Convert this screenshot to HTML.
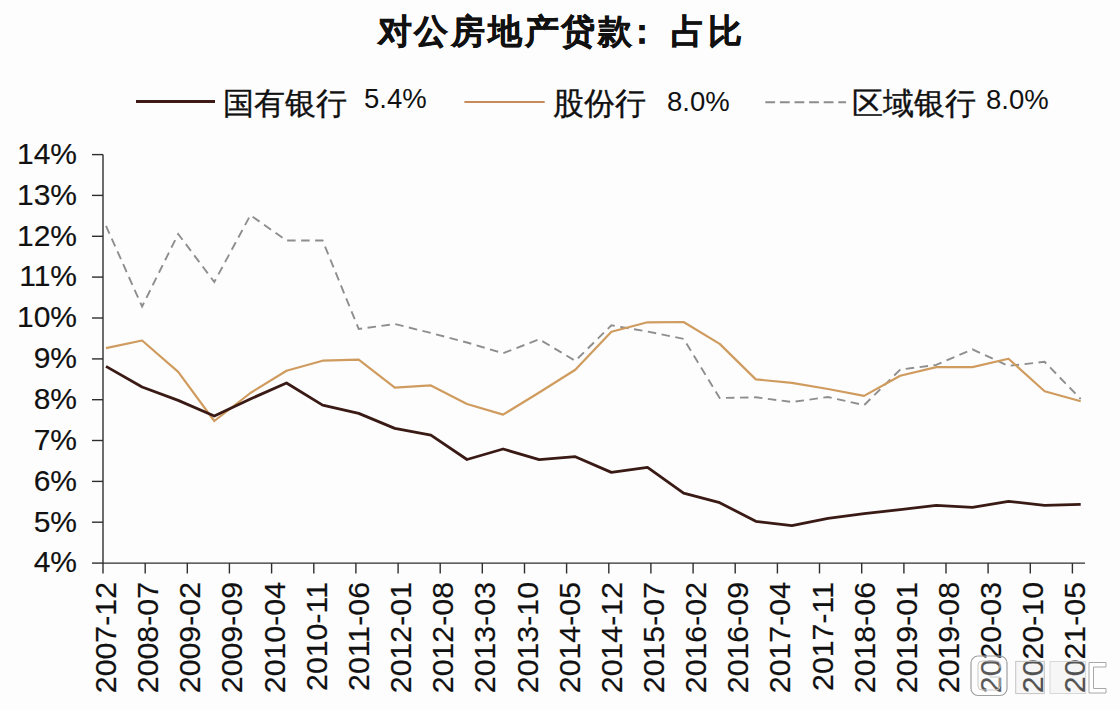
<!DOCTYPE html>
<html><head><meta charset="utf-8">
<style>
html,body{margin:0;padding:0;background:#fdfdfd;}
svg{display:block;}
text{font-family:"Liberation Sans",sans-serif;fill:#111;}
</style></head><body>
<svg width="1120" height="710" viewBox="0 0 1120 710">
<rect width="1120" height="710" fill="#fdfdfd"/>
<g style="font-size:33.5px;font-weight:bold" text-anchor="middle" stroke="#111" stroke-width="0.5"><text x="395" y="43">对</text><text x="431.4" y="43">公</text><text x="468.3" y="43">房</text><text x="504.9" y="43">地</text><text x="541.5" y="43">产</text><text x="577.8" y="43">贷</text><text x="614.7" y="43">款</text><text x="688" y="43">占</text><text x="725.4" y="43">比</text><text x="642.3" y="43">：</text></g>
<g style="font-size:30.5px">
<line x1="136" y1="101.5" x2="215" y2="101.5" stroke="#3d1a16" stroke-width="3"/>
<text x="222.5" y="113.5" stroke="#111" stroke-width="0.35">国有银行</text>
<text x="364" y="107.8" style="font-size:27.5px">5.4%</text>
<line x1="464.4" y1="102" x2="544.7" y2="102" stroke="#c98a5a" stroke-width="2.2"/>
<text x="553" y="113.5" stroke="#111" stroke-width="0.35">股份行</text>
<text x="667" y="111.3" style="font-size:27.5px">8.0%</text>
<line x1="765.3" y1="102.2" x2="846" y2="102.2" stroke="#8c8c8c" stroke-width="2" stroke-dasharray="9.8,4.8"/>
<text x="852" y="113.5" stroke="#111" stroke-width="0.35">区域银行</text>
<text x="986" y="108.8" style="font-size:27.5px">8.0%</text>
</g>
<g stroke="#2e2e2e" stroke-width="1.4">
<line x1="103.0" y1="154.6" x2="103.0" y2="563.1"/>
<line x1="103.0" y1="563.1" x2="1085" y2="563.1"/>
<line x1="92" y1="154.6" x2="103.0" y2="154.6"/><line x1="92" y1="195.4" x2="103.0" y2="195.4"/><line x1="92" y1="236.3" x2="103.0" y2="236.3"/><line x1="92" y1="277.1" x2="103.0" y2="277.1"/><line x1="92" y1="318.0" x2="103.0" y2="318.0"/><line x1="92" y1="358.9" x2="103.0" y2="358.9"/><line x1="92" y1="399.7" x2="103.0" y2="399.7"/><line x1="92" y1="440.5" x2="103.0" y2="440.5"/><line x1="92" y1="481.4" x2="103.0" y2="481.4"/><line x1="92" y1="522.2" x2="103.0" y2="522.2"/><line x1="92" y1="563.1" x2="103.0" y2="563.1"/>
<line x1="103.0" y1="563.1" x2="103.0" y2="573.5"/><line x1="145.2" y1="563.1" x2="145.2" y2="573.5"/><line x1="187.3" y1="563.1" x2="187.3" y2="573.5"/><line x1="229.4" y1="563.1" x2="229.4" y2="573.5"/><line x1="271.6" y1="563.1" x2="271.6" y2="573.5"/><line x1="313.8" y1="563.1" x2="313.8" y2="573.5"/><line x1="355.9" y1="563.1" x2="355.9" y2="573.5"/><line x1="398.1" y1="563.1" x2="398.1" y2="573.5"/><line x1="440.2" y1="563.1" x2="440.2" y2="573.5"/><line x1="482.3" y1="563.1" x2="482.3" y2="573.5"/><line x1="524.5" y1="563.1" x2="524.5" y2="573.5"/><line x1="566.6" y1="563.1" x2="566.6" y2="573.5"/><line x1="608.8" y1="563.1" x2="608.8" y2="573.5"/><line x1="650.9" y1="563.1" x2="650.9" y2="573.5"/><line x1="693.1" y1="563.1" x2="693.1" y2="573.5"/><line x1="735.2" y1="563.1" x2="735.2" y2="573.5"/><line x1="777.4" y1="563.1" x2="777.4" y2="573.5"/><line x1="819.5" y1="563.1" x2="819.5" y2="573.5"/><line x1="861.7" y1="563.1" x2="861.7" y2="573.5"/><line x1="903.9" y1="563.1" x2="903.9" y2="573.5"/><line x1="946.0" y1="563.1" x2="946.0" y2="573.5"/><line x1="988.1" y1="563.1" x2="988.1" y2="573.5"/><line x1="1030.3" y1="563.1" x2="1030.3" y2="573.5"/><line x1="1072.4" y1="563.1" x2="1072.4" y2="573.5"/>
</g>
<g style="font-size:30px" stroke="#111" stroke-width="0.15"><text x="77" y="163.9" text-anchor="end">14%</text><text x="77" y="204.8" text-anchor="end">13%</text><text x="77" y="245.6" text-anchor="end">12%</text><text x="77" y="286.4" text-anchor="end">11%</text><text x="77" y="327.3" text-anchor="end">10%</text><text x="77" y="368.2" text-anchor="end">9%</text><text x="77" y="409.0" text-anchor="end">8%</text><text x="77" y="449.8" text-anchor="end">7%</text><text x="77" y="490.7" text-anchor="end">6%</text><text x="77" y="531.5" text-anchor="end">5%</text><text x="77" y="572.4" text-anchor="end">4%</text></g>
<g style="font-size:30.3px" stroke="#111" stroke-width="0.2"><text transform="translate(116.0,582) rotate(-90)" text-anchor="end">2007-12</text><text transform="translate(158.2,582) rotate(-90)" text-anchor="end">2008-07</text><text transform="translate(200.3,582) rotate(-90)" text-anchor="end">2009-02</text><text transform="translate(242.4,582) rotate(-90)" text-anchor="end">2009-09</text><text transform="translate(284.6,582) rotate(-90)" text-anchor="end">2010-04</text><text transform="translate(326.8,582) rotate(-90)" text-anchor="end">2010-11</text><text transform="translate(368.9,582) rotate(-90)" text-anchor="end">2011-06</text><text transform="translate(411.1,582) rotate(-90)" text-anchor="end">2012-01</text><text transform="translate(453.2,582) rotate(-90)" text-anchor="end">2012-08</text><text transform="translate(495.3,582) rotate(-90)" text-anchor="end">2013-03</text><text transform="translate(537.5,582) rotate(-90)" text-anchor="end">2013-10</text><text transform="translate(579.6,582) rotate(-90)" text-anchor="end">2014-05</text><text transform="translate(621.8,582) rotate(-90)" text-anchor="end">2014-12</text><text transform="translate(663.9,582) rotate(-90)" text-anchor="end">2015-07</text><text transform="translate(706.1,582) rotate(-90)" text-anchor="end">2016-02</text><text transform="translate(748.2,582) rotate(-90)" text-anchor="end">2016-09</text><text transform="translate(790.4,582) rotate(-90)" text-anchor="end">2017-04</text><text transform="translate(832.5,582) rotate(-90)" text-anchor="end">2017-11</text><text transform="translate(874.7,582) rotate(-90)" text-anchor="end">2018-06</text><text transform="translate(916.9,582) rotate(-90)" text-anchor="end">2019-01</text><text transform="translate(959.0,582) rotate(-90)" text-anchor="end">2019-08</text><text transform="translate(1001.1,582) rotate(-90)" text-anchor="end">2020-03</text><text transform="translate(1043.3,582) rotate(-90)" text-anchor="end">2020-10</text><text transform="translate(1085.4,582) rotate(-90)" text-anchor="end">2021-05</text></g>
<g>
<rect x="971" y="656" width="36" height="39.5" rx="7" fill="#ffffff" fill-opacity="0.3" stroke="#a0a0a0" stroke-width="1.2"/>
<path d="M1000,668 L1000,664 Q1000,661 996,661 L982,661 Q978,661 978,665 L978,686 Q978,690 982,690 L996,690 Q1000,690 1000,686 L1000,677 L990,677" fill="none" stroke="#c8c8c8" stroke-width="1"/>
<rect x="1015.7" y="661.4" width="28.6" height="32.2" fill="#e8e8e8" fill-opacity="0.3" stroke="#c4c4c4" stroke-width="1"/>
<rect x="1050" y="661.4" width="35.7" height="32.2" fill="#e8e8e8" fill-opacity="0.3" stroke="#d0d0d0" stroke-width="0.8"/>
<path d="M1106,662.5 L1089,662.5 L1089,693 L1106,693 L1106,688.5 L1093.5,688.5 L1093.5,667 L1106,667 Z" fill="#ffffff" stroke="#a8a8a8" stroke-width="1"/>
</g>
<polyline points="106.0,225.9 142.1,306.5 178.2,234.0 214.3,282.0 250.4,215.2 286.5,240.5 322.6,240.5 358.7,329.0 394.8,324.0 430.9,333.0 467.0,342.5 503.1,353.2 539.2,339.3 575.3,360.8 611.4,325.3 647.5,331.5 683.6,338.9 719.7,398.0 755.8,397.3 791.9,402.0 828.0,397.0 864.1,405.2 900.2,369.6 936.3,364.9 972.4,349.4 1008.5,365.9 1044.6,361.8 1080.7,399.0" fill="none" stroke="#8e8e8e" stroke-width="1.9" stroke-dasharray="8.5,5.5"/>
<polyline points="106.0,348.2 142.1,340.5 178.2,371.8 214.3,421.0 250.4,393.0 286.5,370.8 322.6,360.7 358.7,359.7 394.8,387.7 430.9,385.4 467.0,404.0 503.1,414.6 539.2,392.5 575.3,369.7 611.4,331.7 647.5,322.3 683.6,322.0 719.7,343.9 755.8,379.4 791.9,382.8 828.0,389.0 864.1,395.9 900.2,375.8 936.3,367.1 972.4,367.1 1008.5,358.7 1044.6,391.3 1080.7,401.2" fill="none" stroke="#cf9b5e" stroke-width="2.2" stroke-linejoin="round"/>
<polyline points="106.0,366.4 142.1,387.0 178.2,400.4 214.3,416.0 250.4,399.0 286.5,383.0 322.6,405.1 358.7,413.4 394.8,428.4 430.9,435.1 467.0,459.5 503.1,449.0 539.2,459.7 575.3,456.7 611.4,472.4 647.5,467.3 683.6,493.2 719.7,502.7 755.8,521.3 791.9,525.7 828.0,518.3 864.1,513.6 900.2,509.6 936.3,505.3 972.4,507.4 1008.5,501.3 1044.6,505.3 1080.7,504.3" fill="none" stroke="#3a1a15" stroke-width="2.8" stroke-linejoin="round"/>
</svg>
</body></html>
